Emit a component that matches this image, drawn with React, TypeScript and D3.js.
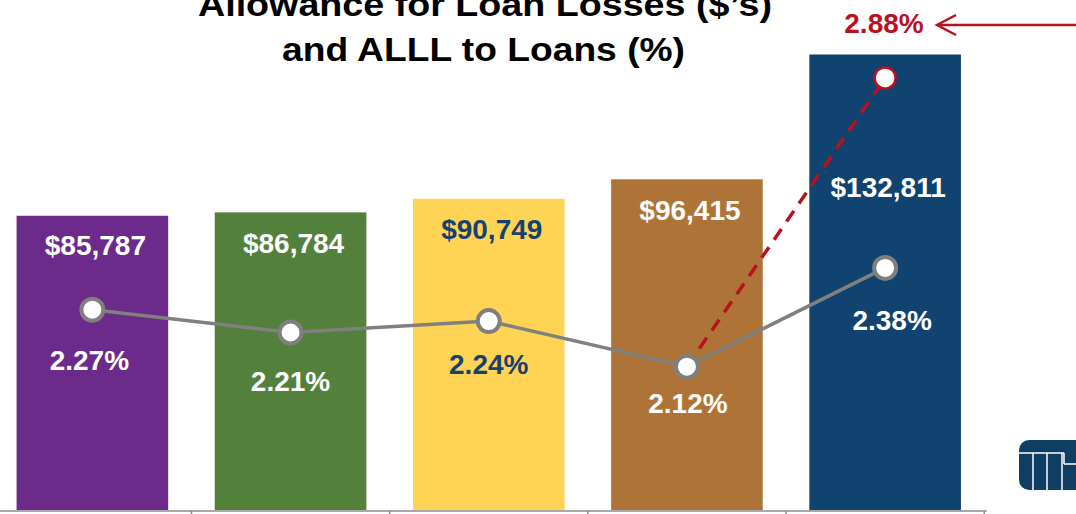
import * as d3 from "d3";
import React, { useRef, useEffect } from "react";

// periods (axis labels are cut off in the source, so they are not drawn)
const periods = ["P1", "P2", "P3", "P4", "P5"];
const allowance = [85787, 86784, 90749, 96415, 132811];
const alllToLoans = [2.27, 2.21, 2.24, 2.12, 2.38];
const adjustedLast = 2.88;
const barColors = ["#6c2a8a", "#53813b", "#ffd455", "#ae7437", "#10436f"];
const valueTextColors = ["#ffffff", "#ffffff", "#17416e", "#ffffff", "#ffffff"];
const titleLines = ["Allowance for Loan Losses ($\u2019s)", "and ALLL to Loans (%)"];

// label nudges (layout only)
const valueLabelDy = [39, 40.5, 40.5, 40.5, 143];
const pctLabelDy = [60.5, 58.5, 52.5, 46.5, 62.5];
const pctLabelDx = [-3, 0, 0, 1, 7];

const FONT = "'Liberation Sans', Arial, Helvetica, sans-serif";

export default function App() {
  const svgRef = useRef<SVGSVGElement | null>(null);
  const w = 1076;
  const h = 514;
  const base = 510;

  useEffect(() => {
    const svg = d3.select(svgRef.current);
    svg.selectAll("*").remove();

    const x = d3
      .scaleBand<string>()
      .domain(periods)
      .range([-9.2, 986.7])
      .paddingInner(0.235)
      .paddingOuter(0.13);
    const y = d3.scaleLinear().domain([0, 148700]).range([base, 0]);
    const yPct = d3.scaleLinear().domain([1.0, 3.0]).range([792.3, 32.3]);
    const step = x.step();
    const cx = (i: number) => (x(periods[i]) as number) + x.bandwidth() / 2;

    // bars
    svg
      .append("g")
      .selectAll("rect")
      .data(allowance)
      .enter()
      .append("rect")
      .attr("x", (d, i) => x(periods[i]) as number)
      .attr("y", (d) => y(d))
      .attr("width", x.bandwidth())
      .attr("height", (d) => base - y(d))
      .attr("fill", (d, i) => barColors[i]);

    // axis line + ticks between categories
    const axis = svg.append("g").attr("stroke", "#8c8c8c").attr("stroke-width", 1.5);
    axis
      .append("line")
      .attr("x1", x.range()[0])
      .attr("x2", x.range()[1])
      .attr("y1", base + 1)
      .attr("y2", base + 1);
    axis
      .selectAll("line.tick")
      .data(periods)
      .enter()
      .append("line")
      .attr("class", "tick")
      .attr("x1", (d) => cx(periods.indexOf(d)) + step / 2)
      .attr("x2", (d) => cx(periods.indexOf(d)) + step / 2)
      .attr("y1", base + 1)
      .attr("y2", h);

    // value labels
    svg
      .append("g")
      .selectAll("text")
      .data(allowance)
      .enter()
      .append("text")
      .attr("x", (d, i) => cx(i) + 3)
      .attr("y", (d, i) => y(d) + valueLabelDy[i])
      .attr("text-anchor", "middle")
      .attr("font-family", FONT)
      .attr("font-weight", "bold")
      .attr("font-size", 28)
      .attr("fill", (d, i) => valueTextColors[i])
      .text((d) => "$" + d3.format(",")(d));

    const last = periods.length - 1;

    // adjusted ratio (red dashed)
    svg
      .append("line")
      .attr("x1", cx(last - 1))
      .attr("y1", yPct(alllToLoans[last - 1]))
      .attr("x2", cx(last))
      .attr("y2", yPct(adjustedLast))
      .attr("stroke", "#b8121f")
      .attr("stroke-width", 3.5)
      .attr("stroke-dasharray", "13,9");

    // ratio line
    const line = d3
      .line<number>()
      .x((d, i) => cx(i))
      .y((d) => yPct(d));
    svg
      .append("path")
      .datum(alllToLoans)
      .attr("d", line)
      .attr("fill", "none")
      .attr("stroke", "#808080")
      .attr("stroke-width", 3.5);

    svg
      .append("g")
      .selectAll("circle")
      .data(alllToLoans)
      .enter()
      .append("circle")
      .attr("cx", (d, i) => cx(i))
      .attr("cy", (d) => yPct(d))
      .attr("r", 11)
      .attr("fill", "#ffffff")
      .attr("stroke", "#7f7f7f")
      .attr("stroke-width", 4);

    svg
      .append("circle")
      .attr("cx", cx(last))
      .attr("cy", yPct(adjustedLast))
      .attr("r", 10.5)
      .attr("fill", "#ffffff")
      .attr("stroke", "#b8121f")
      .attr("stroke-width", 2.5);

    // percent labels
    svg
      .append("g")
      .selectAll("text")
      .data(alllToLoans)
      .enter()
      .append("text")
      .attr("x", (d, i) => cx(i) + pctLabelDx[i])
      .attr("y", (d, i) => yPct(d) + pctLabelDy[i])
      .attr("text-anchor", "middle")
      .attr("font-family", FONT)
      .attr("font-weight", "bold")
      .attr("font-size", 28)
      .attr("fill", (d, i) => valueTextColors[i])
      .text((d) => d3.format(".2f")(d) + "%");

    // adjusted label + arrow
    svg
      .append("text")
      .attr("x", 884)
      .attr("y", 33)
      .attr("text-anchor", "middle")
      .attr("font-family", FONT)
      .attr("font-weight", "bold")
      .attr("font-size", 28)
      .attr("fill", "#b8121f")
      .text(d3.format(".2f")(adjustedLast) + "%");
    const arrow = svg
      .append("g")
      .attr("stroke", "#b8121f")
      .attr("stroke-width", 2.5)
      .attr("fill", "none");
    arrow.append("line").attr("x1", 937).attr("y1", 25).attr("x2", w).attr("y2", 25);
    arrow.append("path").attr("d", "M956,15 L937,25 L956,35");

    // title (top line is clipped by the frame in the source)
    const titleWidths = [574, 403];
    const titleX = [485, 483.5];
    const titleY = [16, 60.5];
    titleLines.forEach((t, i) => {
      svg
        .append("text")
        .attr("x", titleX[i])
        .attr("y", titleY[i])
        .attr("text-anchor", "middle")
        .attr("font-family", FONT)
        .attr("font-weight", "bold")
        .attr("font-size", 34)
        .attr("textLength", titleWidths[i])
        .attr("lengthAdjust", "spacingAndGlyphs")
        .attr("fill", "#000000")
        .text(t);
    });

    // logo mark, bottom right
    const logo = svg.append("g");
    logo
      .append("rect")
      .attr("x", 1019)
      .attr("y", 440)
      .attr("width", 70)
      .attr("height", 50)
      .attr("rx", 10)
      .attr("fill", "#0e3f63");
    const lg = logo.append("g").attr("stroke", "#ffffff").attr("stroke-width", 1.5);
    lg.append("line").attr("x1", 1019).attr("y1", 453).attr("x2", 1064).attr("y2", 453);
    lg.append("line").attr("x1", 1064).attr("y1", 453).attr("x2", 1064).attr("y2", 464);
    lg.append("line").attr("x1", 1064).attr("y1", 464).attr("x2", 1076).attr("y2", 464);
    [1033, 1047, 1062].forEach((lx) => {
      lg.append("line").attr("x1", lx).attr("y1", 453).attr("x2", lx).attr("y2", 490);
    });
  }, []);

  return (
    <svg
      ref={svgRef}
      width={w}
      height={h}
      viewBox={`0 0 ${w} ${h}`}
      style={{ position: "absolute", left: 0, top: 0, background: "#ffffff" }}
    />
  );
}
